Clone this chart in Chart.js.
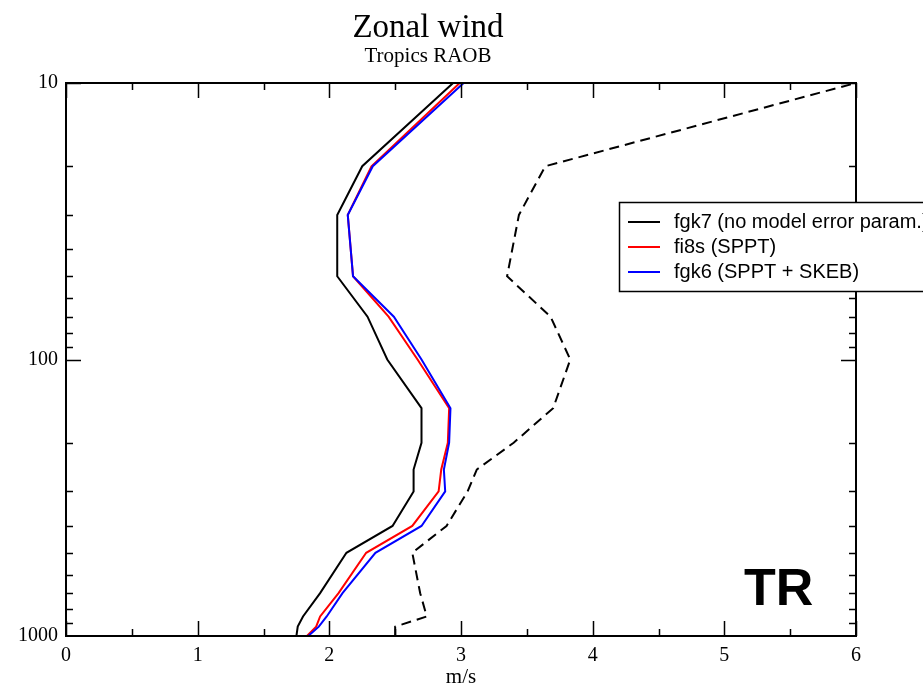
<!DOCTYPE html>
<html>
<head>
<meta charset="utf-8">
<script src="https://cdn.jsdelivr.net/npm/chart.js@4.4.0/dist/chart.umd.min.js"></script>
<style>
html, body { margin: 0; padding: 0; background: #fff; }
#wrap { width: 923px; height: 686px; position: relative; }
</style>
</head>
<body>
<div id="wrap"><canvas id="zonal"></canvas></div>
<script>
// pressure levels (hPa) and rms values (m/s)
var levels = [1000, 925, 850, 700, 500, 400, 300, 250, 200, 150, 100, 70, 50, 30, 20, 10];
var fgk7 = [1.75, 1.76, 1.80, 1.93, 2.13, 2.48, 2.64, 2.64, 2.70, 2.70, 2.44, 2.29, 2.06, 2.06, 2.25, 2.94];
var fi8s = [1.83, 1.90, 1.93, 2.07, 2.28, 2.63, 2.83, 2.85, 2.90, 2.91, 2.67, 2.45, 2.18, 2.14, 2.32, 2.99];
var fgk6 = [1.84, 1.92, 1.98, 2.10, 2.35, 2.70, 2.88, 2.87, 2.91, 2.92, 2.70, 2.49, 2.18, 2.14, 2.33, 3.02];
var dashedRef = [2.50, 2.50, 2.74, 2.69, 2.63, 2.89, 3.05, 3.12, 3.40, 3.70, 3.83, 3.68, 3.35, 3.44, 3.64, 6.00];

var seriesNames = ['fgk7 (no model error param.)', 'fi8s (SPPT)', 'fgk6 (SPPT + SKEB)'];
var seriesColors = ['#000000', '#ff0000', '#0000ff'];
var yLabels = [10, 100, 1000];
var xMin = 0, xMax = 6;

var serif = '"Liberation Serif", "Times New Roman", serif';

function pts(vals) {
  return levels.map(function (p, i) { return { x: vals[i], y: p }; });
}

// box, inward ticks, legend and region label
var decor = {
  id: 'decor',
  afterDatasetsDraw: function (chart) {
    var ctx = chart.ctx, a = chart.chartArea;
    var xs = chart.scales.x, ys = chart.scales.y;
    ctx.save();
    ctx.strokeStyle = '#000';
    ctx.lineWidth = 2;
    ctx.strokeRect(a.left, a.top, a.right - a.left, a.bottom - a.top);

    ctx.lineWidth = 1.5;
    ctx.beginPath();
    for (var v = xMin; v <= xMax; v += 0.5) {
      var px = Math.round(xs.getPixelForValue(v)) + 0.5;
      var len = v % 1 === 0 ? 15 : 7;
      ctx.moveTo(px, a.bottom); ctx.lineTo(px, a.bottom - len);
      ctx.moveTo(px, a.top); ctx.lineTo(px, a.top + len);
    }
    for (var d = 0; d < yLabels.length - 1; d++) {
      for (var m = 1; m < 10; m++) {
        var val = yLabels[d] * m;
        var py = Math.round(ys.getPixelForValue(val)) + 0.5;
        var l = m === 1 ? 15 : 7;
        ctx.moveTo(a.left, py); ctx.lineTo(a.left + l, py);
        ctx.moveTo(a.right, py); ctx.lineTo(a.right - l, py);
      }
    }
    ctx.stroke();

    // legend
    var lx = 619, ly = 202;
    ctx.fillStyle = '#fff';
    ctx.fillRect(lx, ly, 330, 89);
    ctx.lineWidth = 1.5;
    ctx.strokeStyle = '#000';
    ctx.strokeRect(lx + 0.5, ly + 0.5, 330, 89);
    ctx.font = '20px "Liberation Sans", Arial, sans-serif';
    ctx.textBaseline = 'middle';
    ctx.textAlign = 'left';
    for (var i = 0; i < seriesNames.length; i++) {
      var ry = ly + 20 + i * 25;
      ctx.strokeStyle = seriesColors[i];
      ctx.lineWidth = 2;
      ctx.beginPath();
      ctx.moveTo(lx + 9, ry); ctx.lineTo(lx + 41, ry);
      ctx.stroke();
      ctx.fillStyle = '#000';
      ctx.fillText(seriesNames[i], lx + 55, ry);
    }

    ctx.font = 'bold 52px "Liberation Sans", Arial, sans-serif';
    ctx.textBaseline = 'alphabetic';
    ctx.fillText('TR', 744, 605);
    ctx.restore();
  }
};

var ds = [
  { label: seriesNames[0], data: pts(fgk7), borderColor: seriesColors[0], order: 3 },
  { label: seriesNames[1], data: pts(fi8s), borderColor: seriesColors[1], order: 2 },
  { label: seriesNames[2], data: pts(fgk6), borderColor: seriesColors[2], order: 1 },
  { label: 'ref', data: pts(dashedRef), borderColor: '#000000', borderDash: [10, 6], order: 4 }
];
ds.forEach(function (d) {
  d.showLine = true;
  d.borderWidth = 2;
  d.pointRadius = 0;
  d.fill = false;
  d.tension = 0;
});

new Chart(document.getElementById('zonal'), {
  type: 'scatter',
  data: { datasets: ds },
  options: {
    responsive: true,
    maintainAspectRatio: false,
    animation: false,
    layout: { padding: { left: 0, right: 67, top: 0, bottom: 0 } },
    plugins: {
      legend: { display: false },
      tooltip: { enabled: false },
      title: {
        display: true,
        text: 'Zonal wind',
        color: '#000',
        font: { family: serif, size: 33, weight: 'normal', lineHeight: 1 },
        padding: { top: 11.5, bottom: 0 }
      },
      subtitle: {
        display: true,
        text: 'Tropics RAOB',
        color: '#000',
        font: { family: serif, size: 21, lineHeight: 1 },
        padding: { top: 1, bottom: 16.5 }
      }
    },
    scales: {
      x: {
        type: 'linear',
        min: xMin,
        max: xMax,
        grid: { display: false },
        border: { display: false },
        ticks: {
          stepSize: 1,
          color: '#000',
          padding: 0,
          font: { family: serif, size: 20 }
        },
        title: {
          display: true,
          text: 'm/s',
          color: '#000',
          font: { family: serif, size: 21, lineHeight: 1 },
          padding: { top: 0, bottom: -2 }
        },
        afterFit: function (s) { s.height = 50; }
      },
      y: {
        type: 'logarithmic',
        reverse: true,
        min: 10,
        max: 1000,
        grid: { display: false },
        border: { display: false },
        ticks: {
          autoSkip: false,
          color: '#000',
          padding: 0,
          font: { family: serif, size: 20 },
          callback: function (v) { return yLabels.indexOf(v) >= 0 ? String(v) : ''; }
        },
        afterFit: function (s) { s.width = 66; }
      }
    }
  },
  plugins: [decor]
});
</script>
</body>
</html>
